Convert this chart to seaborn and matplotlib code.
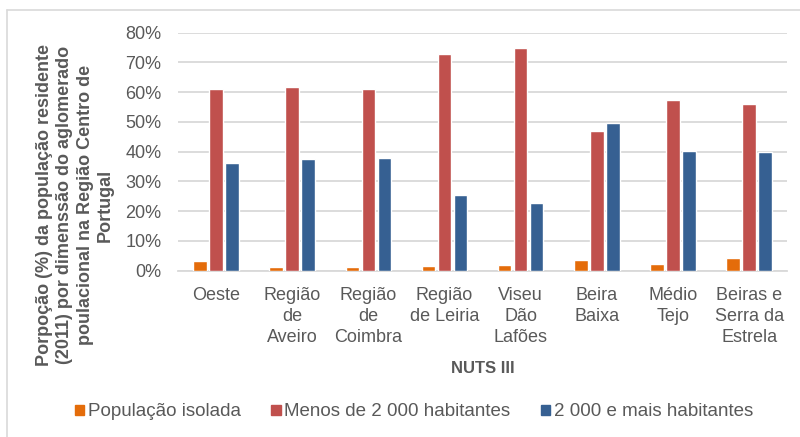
import pandas as pd
import numpy as np
import matplotlib.pyplot as plt
import seaborn as sns
from matplotlib.lines import Line2D

regions = ['Oeste', 'Região\nde\nAveiro', 'Região\nde\nCoimbra', 'Região\nde Leiria',
           'Viseu\nDão\nLafões', 'Beira\nBaixa', 'Médio\nTejo', 'Beiras e\nSerra da\nEstrela']
series = ['População isolada', 'Menos de 2 000 habitantes', '2 000 e mais habitantes']

isolada = [3.1, 1.3, 1.3, 1.7, 2.0, 3.7, 2.4, 4.4]
menos_2000 = [61.0, 61.6, 61.0, 72.9, 74.8, 46.8, 57.3, 55.9]
mais_2000 = [36.1, 37.4, 37.9, 25.4, 22.7, 49.5, 40.1, 39.8]

colors = ['#E46C0A', '#C0504D', '#366092']

df = pd.DataFrame({
    'regiao': regions * 3,
    'serie': np.repeat(series, len(regions)),
    'valor': isolada + menos_2000 + mais_2000,
})

sns.set_style('white')
plt.rcParams['font.family'] = ['Liberation Sans', 'DejaVu Sans']
grey = '#595959'

fig = plt.figure(figsize=(8, 4.37), dpi=100)
ax = fig.add_axes([0.2225, 0.3806, 0.7615, 0.5446])

sns.barplot(data=df, x='regiao', y='valor', hue='serie', palette=colors,
            width=0.63, gap=0.15, ax=ax, zorder=3, saturation=1)

ax.set_ylim(0, 80)
ax.set_xlim(-0.5, len(regions) - 0.5)
ax.set_yticks(range(0, 81, 10))
ax.set_yticklabels(['{}%'.format(v) for v in range(0, 81, 10)])
ax.yaxis.grid(True, color='#D9D9D9', linewidth=1.3, zorder=0)
ax.set_axisbelow(True)
for s in ['top', 'right', 'left']:
    ax.spines[s].set_visible(False)
ax.spines['bottom'].set_color('#D9D9D9')
ax.spines['bottom'].set_linewidth(1.3)
ax.tick_params(axis='y', length=0, pad=12, labelsize=13, labelcolor=grey)
ax.tick_params(axis='x', length=0, pad=12, labelsize=13, labelcolor=grey)
for t in ax.get_xticklabels():
    t.set_linespacing(1.3)
    t.set_multialignment('center')

ax.set_xlabel('NUTS III', fontsize=12, fontweight='bold', color=grey, labelpad=11)
ax.set_ylabel('')

fig.text(75 / 800, 1 - 205 / 437,
         'Porpoção (%) da população residente\n(2011) por dimenssão do aglomerado\n'
         'poulacional na Região Centro de\nPortugal',
         rotation=90, ha='center', va='center', multialignment='center',
         fontsize=13, fontweight='bold', color=grey, linespacing=1.25)

ax.legend_.remove()
handles = [plt.Rectangle((0, 0), 1, 1, color=c) for c in colors]
fig.legend(handles, series, loc='center', bbox_to_anchor=(0.5175, 1 - 412 / 437),
           ncol=3, frameon=False, fontsize=13.5, labelcolor=grey,
           handlelength=0.5, handleheight=0.5, handletextpad=0.2, columnspacing=1.6)

# frame of the original chart area
fig.add_artist(Line2D([7 / 800, 1], [1 - 10 / 437, 1 - 10 / 437], color='#D9D9D9', lw=1.2))
fig.add_artist(Line2D([7 / 800, 7 / 800], [0, 1 - 10 / 437], color='#D9D9D9', lw=1.2))

fig.savefig('out.png', dpi=100)
